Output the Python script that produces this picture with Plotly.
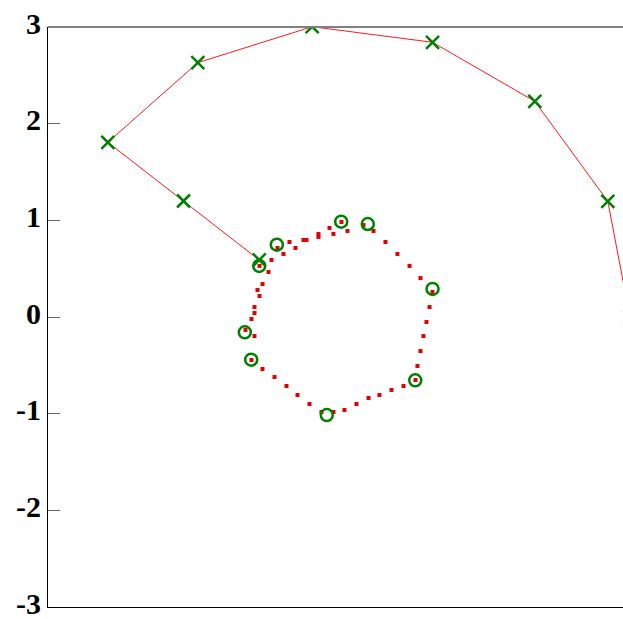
import plotly.graph_objects as go

# Spiral: points along an outward spiral, joined by a thin red line
spiral_x = [-0.815, -1.598, -2.381, -1.450, -0.267, 0.978, 2.036, 2.791, 3.02]
spiral_y = [0.590, 1.200, 1.807, 2.631, 3.003, 2.842, 2.231, 1.197, 0.0]

# Ring samples drawn as open circles
ring_x = [0.033, 0.308, 0.978, 0.799, -0.116, -0.898, -0.964, -0.815, -0.633]
ring_y = [0.986, 0.962, 0.290, -0.655, -1.014, -0.442, -0.158, 0.528, 0.748]

# Dense noisy ring drawn as small red dots
dots_x = [0.036, 0.098, 0.264, 0.367, 0.491, 0.615, 0.740, 0.853, 0.977, 0.947,
          0.915, 0.884, 0.853, 0.822, 0.802, 0.678, 0.553, 0.429, 0.316, 0.191,
          0.067, -0.047, -0.171, -0.295, -0.419, -0.533, -0.657, -0.781, -0.895, -0.864,
          -0.957, -0.895, -0.864, -0.864, -0.812, -0.833, -0.781, -0.719, -0.812, -0.688,
          -0.564, -0.626, -0.502, -0.440, -0.357, -0.326, -0.202, -0.202, -0.088, -0.047]
dots_y = [0.983, 0.890, 0.952, 0.890, 0.776, 0.652, 0.528, 0.403, 0.259, 0.103,
          -0.052, -0.197, -0.352, -0.507, -0.652, -0.714, -0.755, -0.807, -0.838, -0.900,
          -0.962, -0.983, -0.983, -0.900, -0.807, -0.714, -0.621, -0.538, -0.445, -0.197,
          -0.134, -0.021, 0.041, 0.103, 0.217, 0.279, 0.341, 0.466, 0.528, 0.590,
          0.652, 0.714, 0.776, 0.714, 0.797, 0.797, 0.859, 0.828, 0.921, 0.859]

y_ticks = [-3, -2, -1, 0, 1, 2, 3]
y_tick_labels = ["-3", "-2", "-1", "0", "1", "2", "3"]

W, H = 623, 619
ML, MR, MT, MB = 48, 0, 27, 12
px_per_unit = (H - MT - MB) / 6.0
x_max = -3 + (W - ML - MR) / px_per_unit

fig = go.Figure()

fig.add_trace(go.Scatter(
    x=spiral_x, y=spiral_y, mode="lines",
    line=dict(color="#ff1a1a", width=1), hoverinfo="skip", showlegend=False))

fig.add_trace(go.Scatter(
    x=dots_x, y=dots_y, mode="markers",
    marker=dict(symbol="square", size=4, color="#e00000", line=dict(width=0)),
    showlegend=False))

fig.add_trace(go.Scatter(
    x=ring_x, y=ring_y, mode="markers",
    marker=dict(symbol="circle-open", size=12, color="#007f00",
                line=dict(color="#007f00", width=2.5)),
    showlegend=False))

fig.add_trace(go.Scatter(
    x=spiral_x, y=spiral_y, mode="markers",
    marker=dict(symbol="x-thin-open", size=13, color="#007f00",
                line=dict(color="#007f00", width=2.5)),
    showlegend=False))

tick_font = dict(family="Liberation Serif", size=30, color="#000000", weight="bold")

fig.update_layout(
    width=W, height=H,
    margin=dict(l=ML, r=MR, t=MT, b=MB, pad=0, autoexpand=False),
    paper_bgcolor="white", plot_bgcolor="white",
    xaxis=dict(range=[-3, x_max], showgrid=False, zeroline=False,
               showticklabels=False, ticks="", showline=True, automargin=False,
               linecolor="#000000", linewidth=1),
    yaxis=dict(range=[-3, 3], showgrid=False, zeroline=False, automargin=False,
               tickmode="array", tickvals=y_ticks, ticktext=y_tick_labels,
               ticks="inside", ticklen=12, tickwidth=1, tickcolor="#666666",
               showline=True, linecolor="#000000", linewidth=1,
               tickfont=tick_font, ticklabeloverflow="allow", ticklabelshift=-4),
    yaxis2=dict(range=[-3, 3], overlaying="y", side="right", anchor="x",
                showgrid=False, zeroline=False, showticklabels=False,
                automargin=False, tickmode="array", tickvals=y_ticks,
                ticks="inside", ticklen=4, tickwidth=1, tickcolor="#666666",
                showline=False),
    shapes=[dict(type="line", xref="paper", yref="paper", x0=0, x1=1, y0=1, y1=1,
                 line=dict(color="#808080", width=2))],
)

fig.write_html("out.html")
